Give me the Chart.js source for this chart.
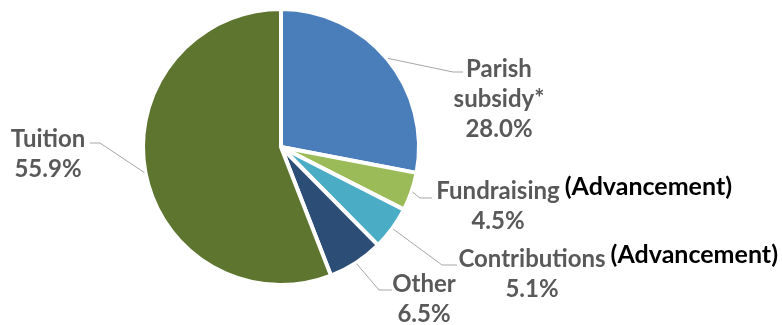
<!DOCTYPE html>
<html><head><meta charset="utf-8">
<script src="https://cdn.jsdelivr.net/npm/chart.js@4"></script>
<style>html,body{margin:0;padding:0;background:#fff}#wrap{width:782px;height:325px;position:relative}</style>
</head><body><div id="wrap"><canvas id="c" width="782" height="325"></canvas></div>
<script>
// ---- data ----
const categories = ['Parish subsidy*', 'Fundraising', 'Contributions', 'Other', 'Tuition'];
const shares = [28.0, 4.5, 5.1, 6.5, 55.9];
const notes = ['', '(Advancement)', '(Advancement)', '', ''];
const sliceColors = ['#4a7ebb', '#9bbb59', '#4bacc6', '#2c4d75', '#5e7530'];

// ---- label layout (offsets from the pie centre) ----
const labelLayout = [
  {tx: 218, ty: -79, ex: 172, ey: -75, hx: 182, wrap: true},
  {tx: 217, ty: 43, ex: 139, ey: 51, hx: 151},
  {tx: 251, ty: 111, ex: 161, ey: 118, hx: 176},
  {tx: 143, ty: 136, ex: 98, ey: 143, hx: 111},
  {tx: -233, ty: -9, ex: -181, ey: -4, hx: -191}
];
const FONT = 'bold 24px Lato';
const NOTE_FONT = 'bold 25px Lato';
const LINE_H = 30;

const labelPlugin = {
  id: 'pieLabels',
  afterDatasetsDraw(chart) {
    const ctx = chart.ctx;
    const meta = chart.getDatasetMeta(0);
    ctx.save();
    ctx.font = FONT;
    const capH = ctx.measureText('H').actualBoundingBoxAscent;
    meta.data.forEach((arc, i) => {
      const p = arc.getProps(['x', 'y', 'startAngle', 'endAngle', 'outerRadius'], true);
      const mid = (p.startAngle + p.endAngle) / 2;
      const L = labelLayout[i];
      const sx = p.x + Math.cos(mid) * (p.outerRadius + 1);
      const sy = p.y + Math.sin(mid) * (p.outerRadius + 1);
      // leader line
      ctx.strokeStyle = '#a6a6a6';
      ctx.lineWidth = 1;
      ctx.beginPath();
      ctx.moveTo(sx, sy);
      ctx.lineTo(p.x + L.ex, p.y + L.ey);
      ctx.lineTo(p.x + L.hx, p.y + L.ey);
      ctx.stroke();
      // text
      ctx.font = FONT;
      const lines = L.wrap ? categories[i].split(' ') : [categories[i]];
      lines.push(shares[i].toFixed(1) + '%');
      ctx.fillStyle = '#595959';
      ctx.textAlign = 'center';
      ctx.textBaseline = 'alphabetic';
      const cx = p.x + L.tx;
      lines.forEach((t, k) => {
        const base = p.y + L.ty + k * LINE_H + capH / 2;
        ctx.fillText(t, cx, base);
      });
      if (notes[i]) {
        const w = ctx.measureText(categories[i]).width;
        ctx.font = NOTE_FONT;
        ctx.fillStyle = '#000000';
        ctx.textAlign = 'left';
        ctx.fillText(notes[i], cx + w / 2 + 5, p.y + L.ty - 4 + capH / 2);
      }
    });
    ctx.restore();
  }
};

new Chart(document.getElementById('c'), {
  type: 'pie',
  data: {
    labels: categories,
    datasets: [{
      data: shares,
      backgroundColor: sliceColors,
      borderColor: '#ffffff',
      borderWidth: 4
    }]
  },
  options: {
    responsive: false,
    animation: false,
    devicePixelRatio: 1,
    layout: {padding: {left: 141, right: 361, top: 7, bottom: 38}},
    plugins: {legend: {display: false}, tooltip: {enabled: false}}
  },
  plugins: [labelPlugin]
});
</script>
</body></html>
